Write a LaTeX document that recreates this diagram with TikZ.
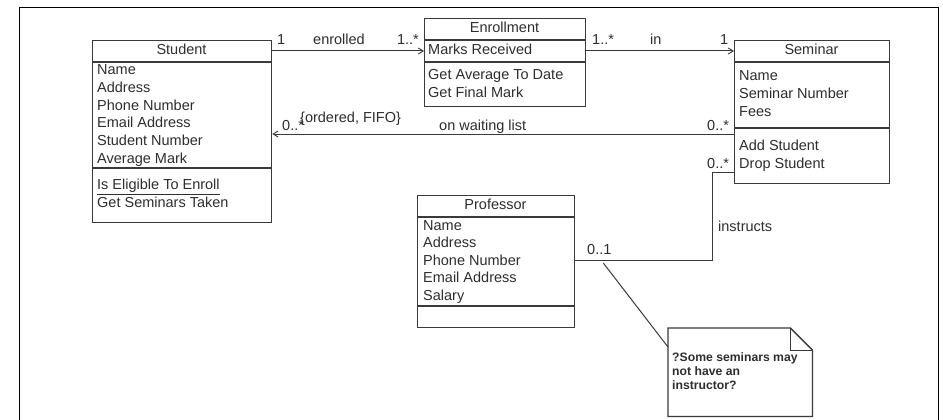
\documentclass[tikz,border=0pt]{standalone}
\usepackage{fontspec}
\setmainfont{Liberation Sans}
\usetikzlibrary{arrows.meta}

\definecolor{ink}{HTML}{2E2E2E}
\definecolor{edge}{HTML}{3A3A3A}

\tikzset{
  classbox/.style={draw=edge, line width=1.3pt, fill=white, anchor=north west,
                   inner sep=0pt, minimum width=#1},
  sep/.style={draw=edge, line width=1.3pt},
  txt/.style={anchor=base west, inner sep=0pt, text=ink,
              font=\fontsize{14.5}{17}\selectfont},
  ttl/.style={anchor=base, inner sep=0pt, text=ink,
              font=\fontsize{14.5}{17}\selectfont},
  rlbl/.style={anchor=base east, inner sep=0pt, text=ink,
               font=\fontsize{14.5}{17}\selectfont},
  notetxt/.style={anchor=base west, inner sep=0pt, text=ink,
                  font=\fontsize{12.2}{14}\selectfont\bfseries},
  assoc/.style={draw=edge, line width=1pt},
  nav/.style={assoc, -{Straight Barb[length=5pt,width=6pt,line width=0.9pt]}},
}

\begin{document}
\begin{tikzpicture}[x=1pt,y=-1pt]
\useasboundingbox (0,0) rectangle (943,420);
\fill[white] (0,0) rectangle (943,420);

% outer frame
\draw[line width=1pt, black] (19,420) -- (19,8) -- (938,8) -- (938,420);

% ---------- Student ----------
\node[classbox=179pt, minimum height=182pt] (student) at (92,40) {};
\draw[sep] ([yshift=-22pt]student.north west) -- ([yshift=-22pt]student.north east);
\draw[sep] ([yshift=-128pt]student.north west) -- ([yshift=-128pt]student.north east);
\node[ttl] (studentT) at (181.5,55) {Student};
\node[txt] (s1) at (97,75)    {Name};
\node[txt] (s2) at (97,92.6)  {Address};
\node[txt] (s3) at (97,110.2) {Phone Number};
\node[txt] (s4) at (97,127.8) {Email Address};
\node[txt] (s5) at (97,145.4) {Student Number};
\node[txt] (s6) at (97,163)   {Average Mark};
\node[txt] (s7) at (97,189.5) {\underline{Is Eligible To Enroll}};
\node[txt] (s8) at (97,207.3) {Get Seminars Taken};

% ---------- Enrollment ----------
\node[classbox=161pt, minimum height=88pt] (enroll) at (424,18) {};
\draw[sep] ([yshift=-22pt]enroll.north west) -- ([yshift=-22pt]enroll.north east);
\draw[sep] ([yshift=-44pt]enroll.north west) -- ([yshift=-44pt]enroll.north east);
\node[ttl] (enrollT) at (504.5,32.5) {Enrollment};
\node[txt] (e1) at (428,55)   {Marks Received};
\node[txt] (e2) at (428,80)   {Get Average To Date};
\node[txt] (e3) at (428,97)   {Get Final Mark};

% ---------- Seminar ----------
\node[classbox=155pt, minimum height=143pt] (seminar) at (734,40) {};
\draw[sep] ([yshift=-22pt]seminar.north west) -- ([yshift=-22pt]seminar.north east);
\draw[sep] ([yshift=-88pt]seminar.north west) -- ([yshift=-88pt]seminar.north east);
\node[ttl] (seminarT) at (811.5,55) {Seminar};
\node[txt] (m1) at (739,81)    {Name};
\node[txt] (m2) at (739,98.8)  {Seminar Number};
\node[txt] (m3) at (739,116.6) {Fees};
\node[txt] (m4) at (739,150.7) {Add Student};
\node[txt] (m5) at (739,168.4) {Drop Student};

% ---------- Professor ----------
\node[classbox=157pt, minimum height=132pt] (prof) at (417,195) {};
\draw[sep] ([yshift=-22pt]prof.north west) -- ([yshift=-22pt]prof.north east);
\draw[sep] ([yshift=-111pt]prof.north west) -- ([yshift=-111pt]prof.north east);
\node[ttl] (profT) at (495.5,209.5) {Professor};
\node[txt] (p1) at (423,230)   {Name};
\node[txt] (p2) at (423,247.5) {Address};
\node[txt] (p3) at (423,265)   {Phone Number};
\node[txt] (p4) at (423,282.5) {Email Address};
\node[txt] (p5) at (423,300)   {Salary};

% ---------- Note ----------
\node[anchor=north west, inner sep=0pt, minimum width=144pt, minimum height=88pt] (note) at (668,328) {};
\draw[edge, line width=1.3pt, fill=white]
  (note.north west) -- ([xshift=-22pt]note.north east) -- ([yshift=-22pt]note.north east)
  -- (note.south east) -- (note.south west) -- cycle;
\draw[edge, line width=1pt]
  ([xshift=-22pt]note.north east) |- ([yshift=-22pt]note.north east);
\node[notetxt] (n1) at (672,361.7) {?Some seminars may};
\node[notetxt] (n2) at (672,375.5) {not have an};
\node[notetxt] (n3) at (672,389.3) {instructor?};

% ---------- Associations ----------
% Student -- Enrollment
\draw[nav] ([yshift=-11pt]student.north east) -- ([yshift=-33pt]enroll.north west);
\node[txt] (l1) at (277,45) {1};
\node[txt] (l2) at (313,45) {enrolled};
\node[rlbl] (l3) at (419,45) {1..*};

% Enrollment -- Seminar
\draw[nav] ([yshift=-33pt]enroll.north east) -- ([yshift=-11pt]seminar.north west);
\node[txt] (l4) at (592,45) {1..*};
\node[txt] (l5) at (650,45) {in};
\node[txt] (l6) at (720,45) {1};

% waiting list: Seminar -> Student
\draw[nav] ([yshift=-94pt]seminar.north west) -- ([yshift=-94pt]student.north east);
\node[txt] (l7) at (707,130) {0..*};
\node[txt] (l8) at (439,130) {on waiting list};
\node[txt] (l9) at (282,131) {0..*};
\node[txt] (l10) at (300,122) {\{ordered, FIFO\}};

% instructs: Seminar -- Professor
\draw[assoc] ([yshift=-132pt]seminar.north west) -- ++(-22,0)
  |- ([yshift=-65pt]prof.north east);
\node[txt] (l11) at (707,168) {0..*};
\node[txt] (l12) at (718,231.7) {instructs};
\node[txt] (l13) at (587,254) {0..1};

% note attachment
\coordinate (nlink) at ([xshift=28pt,yshift=-68pt]prof.north east);
\draw[assoc] (nlink) -- ([yshift=-19pt]note.north west);

\end{tikzpicture}
\end{document}
